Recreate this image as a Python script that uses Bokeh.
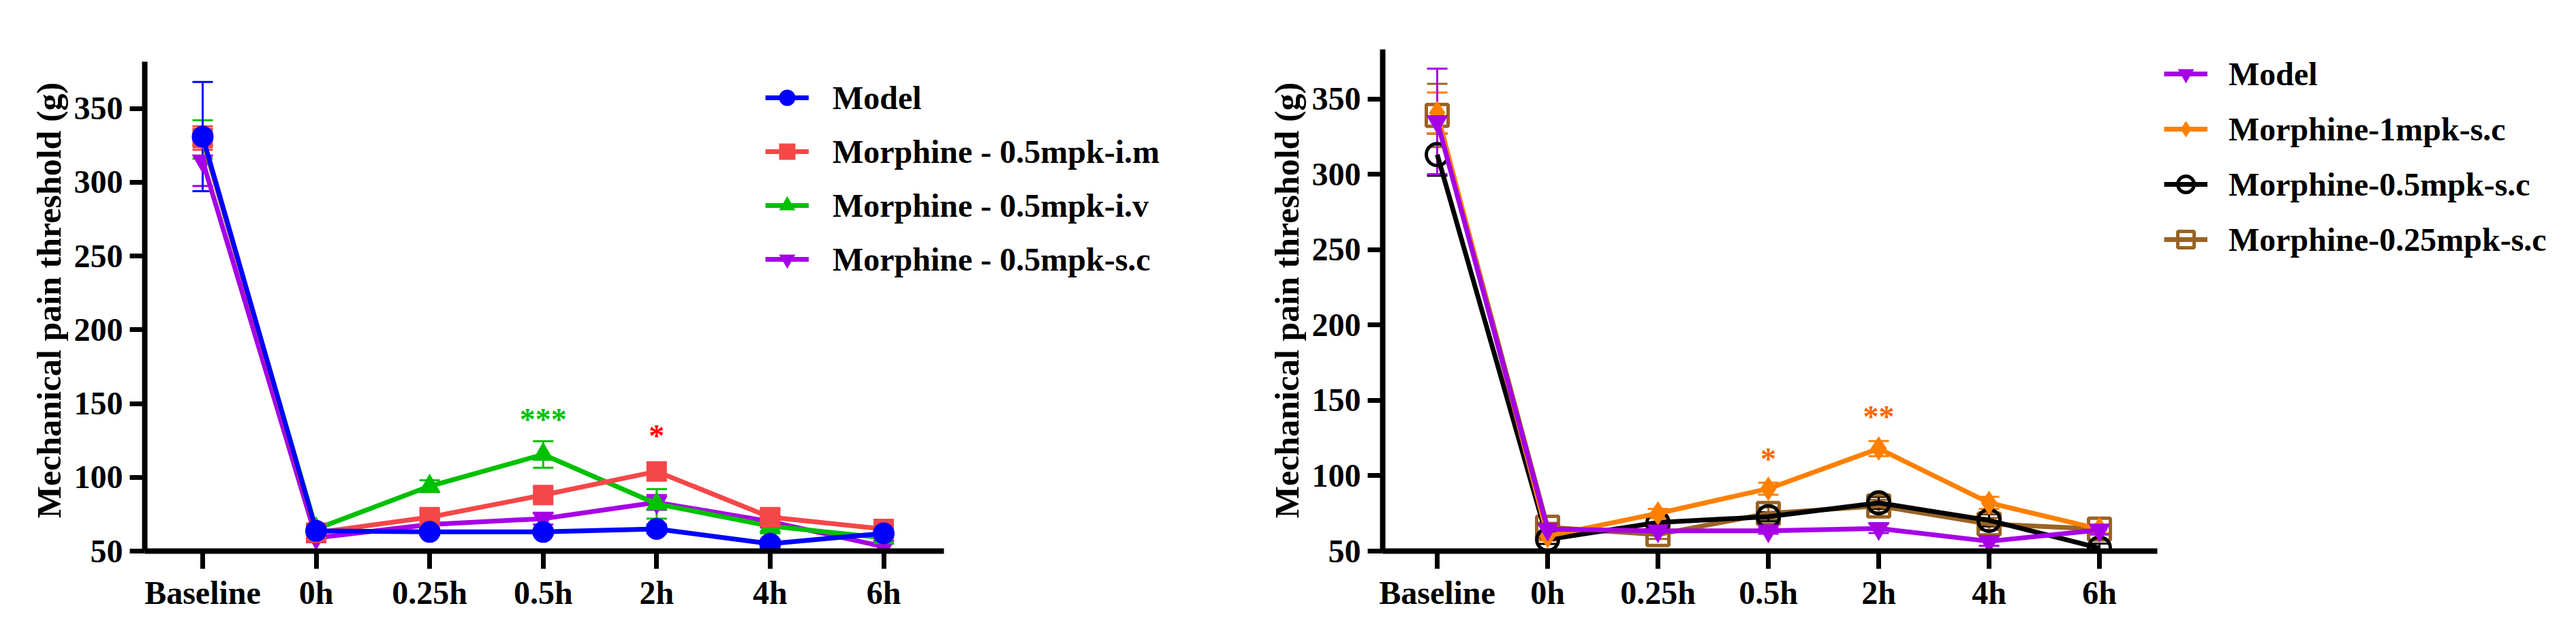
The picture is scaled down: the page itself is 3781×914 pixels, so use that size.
from bokeh.plotting import figure
from bokeh.models import (Range1d, FixedTicker, Legend, LegendItem, Whisker,
                          ColumnDataSource, TeeHead)
from bokeh.layouts import row
from bokeh.core.properties import value
from bokeh.embed import file_html
from bokeh.resources import INLINE

# ---------------- data ----------------
categories = ["Baseline", "0h", "0.25h", "0.5h", "2h", "4h", "6h"]
y_ticks = [50, 100, 150, 200, 250, 300, 350]
y_label = "Mechanical pain threshold (g)"

# left panel
left_names = ["Model", "Morphine - 0.5mpk-i.m", "Morphine - 0.5mpk-i.v", "Morphine - 0.5mpk-s.c"]
left_model = [331, 63.7, 63, 63, 65, 55, 62]
left_im = [330, 62.5, 73, 88, 104, 73, 65]
left_iv = [329, 65, 94, 115.5, 82, 67, 59]
left_sc = [314.5, 59, 68, 72, 83, 70, 53]
left_model_sem = [37, 3, 2, 2, 3, 3, 3]
left_im_sem = [8, 4, 4, 5, 6, 5, 3]
left_iv_sem = [13, 3, 4, 9, 10, 5, 4]
left_sc_sem = [17, 3, 3, 4, 5, 4, 4]
left_sig_cat = [3, 4]
left_sig_text = ["***", "*"]
left_sig_y = [139, 128]

# right panel
right_names = ["Model", "Morphine-1mpk-s.c", "Morphine-0.5mpk-s.c", "Morphine-0.25mpk-s.c"]
right_model = [335, 64.6, 63.5, 63.5, 65, 56.5, 64]
right_1mpk = [340.7, 60, 75, 91.4, 118, 82, 64.6]
right_05mpk = [313, 57.7, 69, 72.8, 82, 70.4, 52]
right_025mpk = [339, 65.8, 61, 75, 80, 68, 64.6]
right_model_sem = [35, 3, 2, 2, 3, 3, 3]
right_1mpk_sem = [13.5, 3, 3, 4, 5, 4, 3]
right_05mpk_sem = [14, 3, 3, 3, 4, 4, 3]
right_025mpk_sem = [21, 3, 3, 4, 4, 4, 3]
right_sig_cat = [3, 4]
right_sig_text = ["*", "**"]
right_sig_y = [111, 139]

FONT = "Liberation Serif"


def style_fig(p, yhi, yaxis_hi, xlo, xhi, xaxis_hi):
    p.x_range = Range1d(xlo, xhi)
    p.y_range = Range1d(50, yhi)
    p.outline_line_color = None
    p.xgrid.visible = False
    p.ygrid.visible = False
    p.background_fill_color = "white"
    p.border_fill_color = "white"

    p.xaxis.bounds = (xlo, xaxis_hi)
    p.yaxis.bounds = (50, yaxis_hi)
    p.xaxis.ticker = FixedTicker(ticks=list(range(len(categories))))
    p.xaxis.major_label_overrides = {i: c for i, c in enumerate(categories)}
    p.yaxis.ticker = FixedTicker(ticks=y_ticks)
    for ax in (p.xaxis, p.yaxis):
        ax.axis_line_width = 8
        ax.axis_line_color = "black"
        ax.major_tick_line_width = 7
        ax.major_tick_line_color = "black"
        ax.major_tick_in = 0
        ax.minor_tick_line_color = None
        ax.major_label_text_font = FONT
        ax.major_label_text_font_style = "bold"
        ax.major_label_text_font_size = "48px"
        ax.major_label_text_color = "black"
    p.xaxis.major_tick_out = 26
    p.yaxis.major_tick_out = 22
    p.xaxis.major_label_standoff = 8
    p.yaxis.major_label_standoff = 10
    p.yaxis.axis_label = y_label
    p.yaxis.axis_label_text_font = FONT
    p.yaxis.axis_label_text_font_style = "bold"
    p.yaxis.axis_label_text_font_size = "50px"
    p.yaxis.axis_label_text_color = "black"
    p.yaxis.axis_label_standoff = 6


def add_series(p, ys, sems, color, marker, fill, line_w=7, size=32, mline=0):
    xs = list(range(len(categories)))
    src = ColumnDataSource(dict(x=xs, y=ys,
                                upper=[a + b for a, b in zip(ys, sems)],
                                lower=[a - b for a, b in zip(ys, sems)]))
    w = Whisker(source=src, base="x", upper="upper", lower="lower",
                line_color=color, line_width=3, level="underlay",
                upper_head=TeeHead(size=30, line_color=color, line_width=3),
                lower_head=TeeHead(size=30, line_color=color, line_width=3))
    p.add_layout(w)
    ln = p.line("x", "y", source=src, line_color=color, line_width=line_w)
    sc = p.scatter("x", "y", source=src, marker=marker, size=size,
                   fill_color=fill, line_color=color, line_width=mline,
                   fill_alpha=1.0 if fill is not None else 0)
    return ln, sc


def make_legend(p, names, rends, x, y, standoff, spacing):
    items = [LegendItem(label=n, renderers=list(r)) for n, r in zip(names, rends)]
    lg = Legend(items=items, location=(x, y), orientation="vertical",
                border_line_alpha=0, background_fill_alpha=0, padding=0, margin=0,
                glyph_width=64, glyph_height=60, label_height=60,
                label_standoff=standoff, spacing=spacing,
                label_text_font=FONT, label_text_font_style="bold",
                label_text_font_size="48px", label_text_color="black",
                label_text_baseline="middle")
    p.add_layout(lg)


def add_sig(p, cats, texts, ys, color_list):
    src = ColumnDataSource(dict(x=cats, y=ys, t=texts, c=color_list))
    p.text("x", "y", text="t", source=src, text_color="c",
           text_font=value(FONT), text_font_size="46px", text_font_style="bold",
           text_align="center", text_baseline="middle")


# ---------------- left figure ----------------
pL = figure(width=1732, height=898, output_backend="svg", toolbar_location=None,
            min_border_left=212, min_border_right=5, min_border_top=72,
            min_border_bottom=89)
style_fig(pL, 390.1, 381.8, -0.51, 8.584, 6.53)

lc = ["#0000FF", "#F54748", "#00C000", "#A600E6"]
r_sc = add_series(pL, left_sc, left_sc_sem, lc[3], "inverted_triangle", lc[3])
r_iv = add_series(pL, left_iv, left_iv_sem, lc[2], "triangle", lc[2])
r_im = add_series(pL, left_im, left_im_sem, lc[1], "square", lc[1], size=30)
r_mod = add_series(pL, left_model, left_model_sem, lc[0], "circle", lc[0])
add_sig(pL, left_sig_cat, left_sig_text, left_sig_y, ["#00C000", "#FF0000"])
make_legend(pL, left_names, [r_mod, r_im, r_iv, r_sc], 911, 398, 35, 19)

# ---------------- right figure ----------------
pR = figure(width=2033, height=898, output_backend="svg", toolbar_location=None,
            min_border_left=297, min_border_right=5, min_border_top=72,
            min_border_bottom=89)
style_fig(pR, 382.8, 382.8, -0.494, 10.191, 6.525)

rc = ["#A600E6", "#FF8000", "#000000", "#9A6324"]
q_025 = add_series(pR, right_025mpk, right_025mpk_sem, rc[3], "square", None, size=32, mline=5)
q_05 = add_series(pR, right_05mpk, right_05mpk_sem, rc[2], "circle", None, size=32, mline=5)
q_1 = add_series(pR, right_1mpk, right_1mpk_sem, rc[1], "diamond", rc[1], size=36)
q_mod = add_series(pR, right_model, right_model_sem, rc[0], "inverted_triangle", rc[0])
add_sig(pR, right_sig_cat, right_sig_text, right_sig_y, ["#FF6600", "#FF6600"])
make_legend(pR, right_names, [q_mod, q_1, q_05, q_025], 1147, 427, 31, 21)

layout = row(pL, pR)
open("out.html", "w").write(file_html(layout, INLINE))
